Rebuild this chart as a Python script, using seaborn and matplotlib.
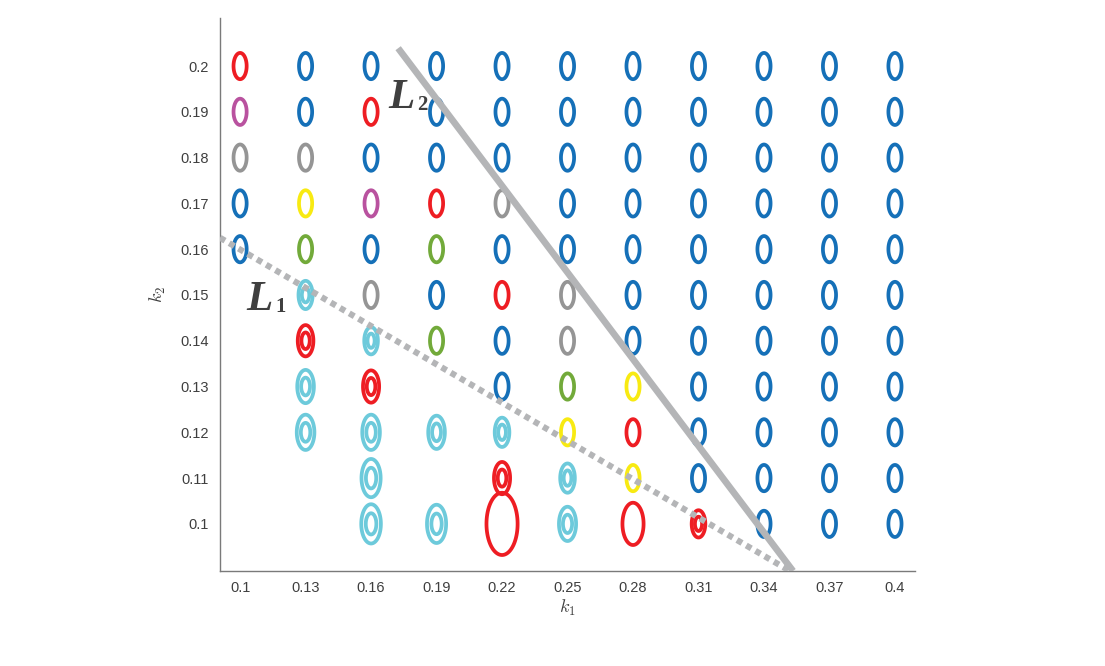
import numpy as np
import pandas as pd
import matplotlib
matplotlib.use("Agg")
import matplotlib.pyplot as plt
from matplotlib.path import Path
import seaborn as sns

# ---------------- data ----------------
k1_values = [0.10, 0.13, 0.16, 0.19, 0.22, 0.25, 0.28, 0.31, 0.34, 0.37, 0.40]
k2_values = [0.20, 0.19, 0.18, 0.17, 0.16, 0.15, 0.14, 0.13, 0.12, 0.11, 0.10]
k1_labels = ["0.1", "0.13", "0.16", "0.19", "0.22", "0.25", "0.28", "0.31", "0.34", "0.37", "0.4"]
k2_labels = ["0.1", "0.11", "0.12", "0.13", "0.14", "0.15", "0.16", "0.17", "0.18", "0.19", "0.2"]

# state of each (k1, k2) cell, rows from k2 = 0.20 down to 0.10
# '.' = none, lowercase = double orbit
state_rows = [
    "RBBBBBBBBBB",
    "PBRBBBBBBBB",
    "GGBBBBBBBBB",
    "BYPRGBBBBBB",
    "BNBNBBBBBBB",
    ".cGBRGBBBBB",
    ".rcNBGBBBBB",
    ".cr.BNYBBBB",
    ".ccccYRBBBB",
    "..c.rcYBBBB",
    "..ccRcRrBBB",
]
# orbit amplitude (outer extent) per cell, same layout
amplitude_rows = [
    [30, 30, 30, 30, 30, 30, 30, 30, 30, 30, 30],
    [30, 30, 30, 30, 30, 30, 30, 30, 30, 30, 30],
    [30, 30, 30, 30, 30, 30, 30, 30, 30, 30, 30],
    [30, 30, 30, 30, 30, 30, 30, 30, 30, 30, 30],
    [30, 30, 30, 30, 30, 30, 30, 30, 30, 30, 30],
    [0, 32, 30, 30, 30, 30, 30, 30, 30, 30, 30],
    [0, 35, 31, 30, 30, 30, 30, 30, 30, 30, 30],
    [0, 37, 36, 0, 30, 30, 30, 30, 30, 30, 30],
    [0, 39, 39, 37, 33, 30, 30, 30, 30, 30, 30],
    [0, 0, 42, 0, 36, 33, 30, 30, 30, 30, 30],
    [0, 0, 43, 42, 66, 38, 46, 31, 30, 30, 30],
]
state_names = {"B": "blue", "R": "red", "P": "purple", "G": "gray",
               "Y": "yellow", "N": "green", "C": "cyan"}

L1_k1 = [0.0908, 0.3519]
L1_k2 = [0.1625, 0.0897]
L2_k1 = [0.1724, 0.3533]
L2_k2 = [0.2039, 0.0897]

# ---------------- styling ----------------
palette = {"blue": "#1570B8", "red": "#EE1D23", "purple": "#B9529F", "gray": "#959595",
           "yellow": "#F8EA12", "green": "#72AA3A", "cyan": "#6DCADB"}
line_gray = "#B4B5B7"
axis_gray = "#7A7A7A"
text_dark = "#3F3F3F"

sns.set_style("white")
plt.rcParams["font.family"] = ["Liberation Sans", "DejaVu Sans"]

DPI = 100
PX_PER_PT = DPI / 72.0
LW_PT = 2.7
LW_PX = LW_PT * PX_PER_PT
INNER_RATIO = 0.58

rows = []
for k2, srow, arow in zip(k2_values, state_rows, amplitude_rows):
    for k1, code, amp in zip(k1_values, srow, arow):
        if code == ".":
            continue
        rows.append({"k1": k1, "k2": k2, "state": state_names[code.upper()],
                     "amp": amp, "double": code.islower()})
df = pd.DataFrame(rows)

theta = np.linspace(0, 2 * np.pi, 120)
ellipse = Path(np.column_stack([0.5 * np.cos(theta), np.sin(theta)]), closed=True)


def marker_area(amp):
    ms = (np.asarray(amp, dtype=float) - LW_PX) / PX_PER_PT
    return ms ** 2


def draw_rings(ax, data, amp):
    sns.scatterplot(data=data, x="k1", y="k2", hue="state", palette=palette,
                    marker=ellipse, s=marker_area(amp), legend=False, ax=ax, zorder=3)
    coll = ax.collections[-1]
    fc = coll.get_facecolors()
    coll.set_edgecolors(fc)
    coll.set_facecolors("none")
    coll.set_linewidths(LW_PT)


fig = plt.figure(figsize=(11.05, 6.66), dpi=DPI)
ax = fig.add_axes([0.1991, 0.1426, 0.629, 0.8304])

draw_rings(ax, df, df["amp"].values)
inner = df[df["double"]].reset_index(drop=True)
draw_rings(ax, inner, inner["amp"].values * INNER_RATIO)

sns.lineplot(x=L1_k1, y=L1_k2, color=line_gray, lw=4.4, linestyle=(0, (0.95, 0.8)),
             ax=ax, zorder=4, solid_capstyle="butt", dash_capstyle="butt")
sns.lineplot(x=L2_k1, y=L2_k2, color=line_gray, lw=4.8, ax=ax, zorder=4,
             solid_capstyle="butt")

ax.text(0.1030, 0.14672, "L", family="Liberation Serif", weight="bold", style="italic",
        fontsize=31, color=text_dark, ha="left", va="baseline", zorder=5)
ax.text(0.1163, 0.1463, "1", family="Liberation Serif", weight="bold",
        fontsize=15, color=text_dark, ha="left", va="baseline", zorder=5)
ax.text(0.1680, 0.19083, "L", family="Liberation Serif", weight="bold", style="italic",
        fontsize=31, color=text_dark, ha="left", va="baseline", zorder=5)
ax.text(0.1813, 0.19039, "2", family="Liberation Serif", weight="bold",
        fontsize=15, color=text_dark, ha="left", va="baseline", zorder=5)

ax.set_xlim(0.0908, 0.4092)
ax.set_ylim(0.0897, 0.2105)
ax.set_xticks(k1_values)
ax.set_xticklabels(k1_labels)
ax.set_yticks(sorted(k2_values))
ax.set_yticklabels(k2_labels)

for side in ["top", "right"]:
    ax.spines[side].set_visible(False)
for side in ["left", "bottom"]:
    ax.spines[side].set_color(axis_gray)
    ax.spines[side].set_linewidth(1.0)

ax.tick_params(axis="both", direction="in", length=4, width=0.8, color=axis_gray,
               labelsize=10.5, labelcolor=text_dark)
ax.tick_params(axis="y", pad=8)
ax.tick_params(axis="x", pad=7)

ax.set_xlabel(r"$k_1$", fontsize=13, math_fontfamily="cm", color=text_dark, labelpad=2)
ax.set_ylabel(r"$k_2$", fontsize=13, math_fontfamily="cm", color=text_dark, labelpad=9)

fig.savefig("out.png", dpi=DPI, facecolor="white")
